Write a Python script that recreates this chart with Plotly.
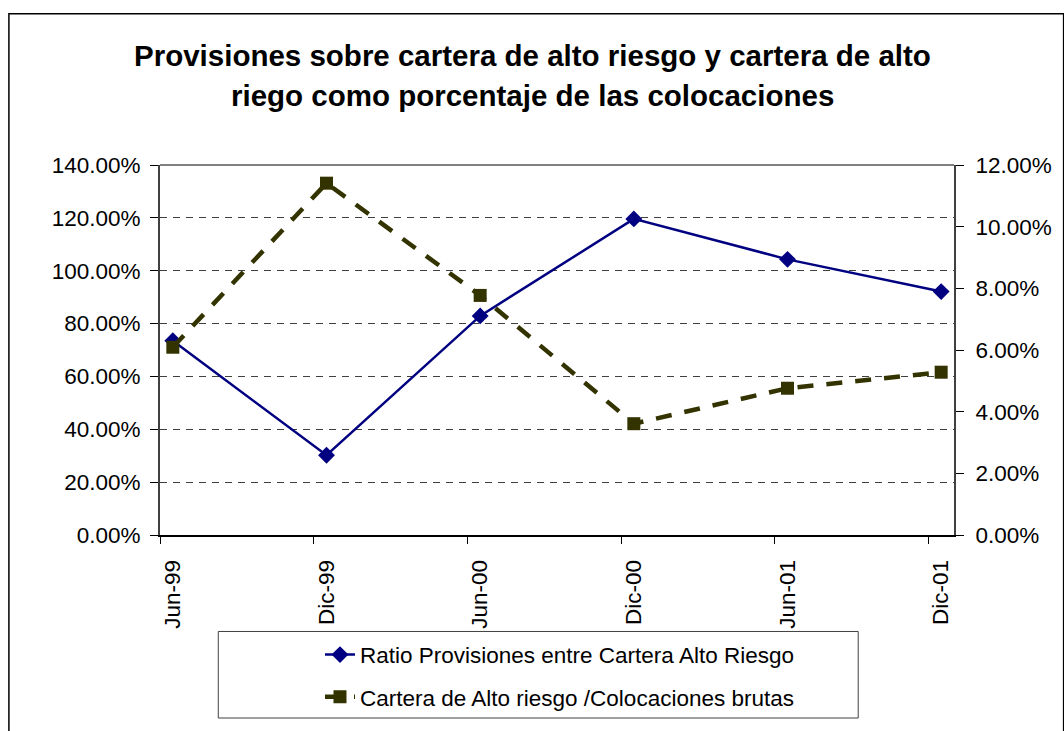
import plotly.graph_objects as go

# datos
periodos = ['Jun-99', 'Dic-99', 'Jun-00', 'Dic-00', 'Jun-01', 'Dic-01']
ratio_provisiones = [0.735, 0.302, 0.829, 1.196, 1.043, 0.921]
cartera_alto_riesgo = [0.0609, 0.1141, 0.0777, 0.0361, 0.0476, 0.0528]

nombre_ratio = 'Ratio Provisiones entre Cartera Alto Riesgo'
nombre_cartera = 'Cartera de Alto riesgo /Colocaciones brutas'
titulo_1 = 'Provisiones sobre cartera de alto riesgo y cartera de alto'
titulo_2 = 'riego como porcentaje de las colocaciones'

FONT = 'Arial, Liberation Sans, sans-serif'
AZUL = '#000080'
OLIVA = '#333300'
TXT = 22.5

# geometría en px del área de trazado (para convertir a coordenadas paper)
W, H = 1064, 731
L, R, T, B = 160, 964, 165, 537


def px_x(x):
    return (x - L) / (R - L)


def px_y(y):
    return (B - y) / (B - T)


x_idx = list(range(len(periodos)))
off = 0.0835

fig = go.Figure()

fig.add_trace(go.Scatter(
    x=x_idx, y=ratio_provisiones,
    mode='lines+markers',
    name=nombre_ratio,
    legendgroup='a',
    line=dict(color=AZUL, width=2.5),
    marker=dict(symbol='diamond', size=13, color=AZUL),
    yaxis='y'
))

fig.add_trace(go.Scatter(
    x=x_idx, y=cartera_alto_riesgo,
    mode='lines+markers',
    name=nombre_cartera,
    legendgroup='b',
    line=dict(color=OLIVA, width=4.5, dash='16px,13px'),
    marker=dict(symbol='square', size=13, color=OLIVA),
    yaxis='y2'
))

shapes = [
    # marco exterior del gráfico
    dict(type='rect', xref='paper', yref='paper',
         x0=px_x(7), x1=px_x(1075), y0=px_y(13), y1=px_y(745),
         line=dict(color='black', width=1.5), fillcolor='rgba(0,0,0,0)'),
    # caja de la leyenda
    dict(type='rect', xref='paper', yref='paper',
         x0=px_x(219), x1=px_x(867), y0=px_y(634), y1=px_y(721),
         line=dict(color='#404040', width=1), fillcolor='rgba(0,0,0,0)'),
    # línea superior gris del área de trazado
    dict(type='line', xref='paper', yref='paper',
         x0=0, x1=1, y0=1, y1=1, line=dict(color='#808080', width=2)),
]

fig.update_layout(
    width=W, height=H,
    margin=dict(l=L, r=W - R, t=T, b=H - B, pad=0),
    paper_bgcolor='white',
    plot_bgcolor='white',
    font=dict(family=FONT, size=TXT, color='black'),
    shapes=shapes,
    annotations=[
        dict(text=f'<b>{titulo_1}</b>', xref='paper', yref='paper',
             x=px_x(537), y=px_y(55), showarrow=False,
             xanchor='center', yanchor='middle', font=dict(size=29.5)),
        dict(text=f'<b>{titulo_2}</b>', xref='paper', yref='paper',
             x=px_x(537), y=px_y(95), showarrow=False,
             xanchor='center', yanchor='middle', font=dict(size=29.5)),
    ],
    xaxis=dict(
        range=[-off, len(periodos) - 1 + off],
        tickmode='array', tickvals=x_idx, ticktext=periodos,
        tickangle=-90, ticks='', ticklabelstandoff=14,
        showgrid=False, zeroline=False,
        showline=True, linecolor='black', linewidth=2,
        minor=dict(tickmode='array', tickvals=[i - off for i in x_idx],
                   ticks='outside', ticklen=7, tickcolor='black', tickwidth=1,
                   showgrid=False),
    ),
    yaxis=dict(
        range=[0, 1.4], dtick=0.2, tickformat='.2%',
        ticks='outside', ticklen=8, tickcolor='black',
        ticklabelstandoff=5,
        showgrid=True, gridcolor='#404040', griddash='7px,6px', gridwidth=1,
        zeroline=False,
        showline=True, linecolor='#404040', linewidth=2,
    ),
    yaxis2=dict(
        range=[0, 0.12], dtick=0.02, tickformat='.2%',
        overlaying='y', side='right',
        ticks='outside', ticklen=8, tickcolor='black',
        ticklabelstandoff=7,
        showgrid=False, zeroline=False,
        showline=True, linecolor='#404040', linewidth=2,
    ),
    showlegend=True,
    legend=dict(
        x=px_x(322), y=px_y(636), xanchor='left', yanchor='top',
        bgcolor='rgba(0,0,0,0)', borderwidth=0,
        traceorder='grouped', tracegroupgap=10,
        font=dict(size=TXT),
    ),
)

# sin margen del body para que la figura ocupe la ventana exacta
fig.write_html(
    'out.html',
    config={'displayModeBar': False},
    post_script="document.body.style.margin='0';document.body.style.overflow='hidden';",
)
